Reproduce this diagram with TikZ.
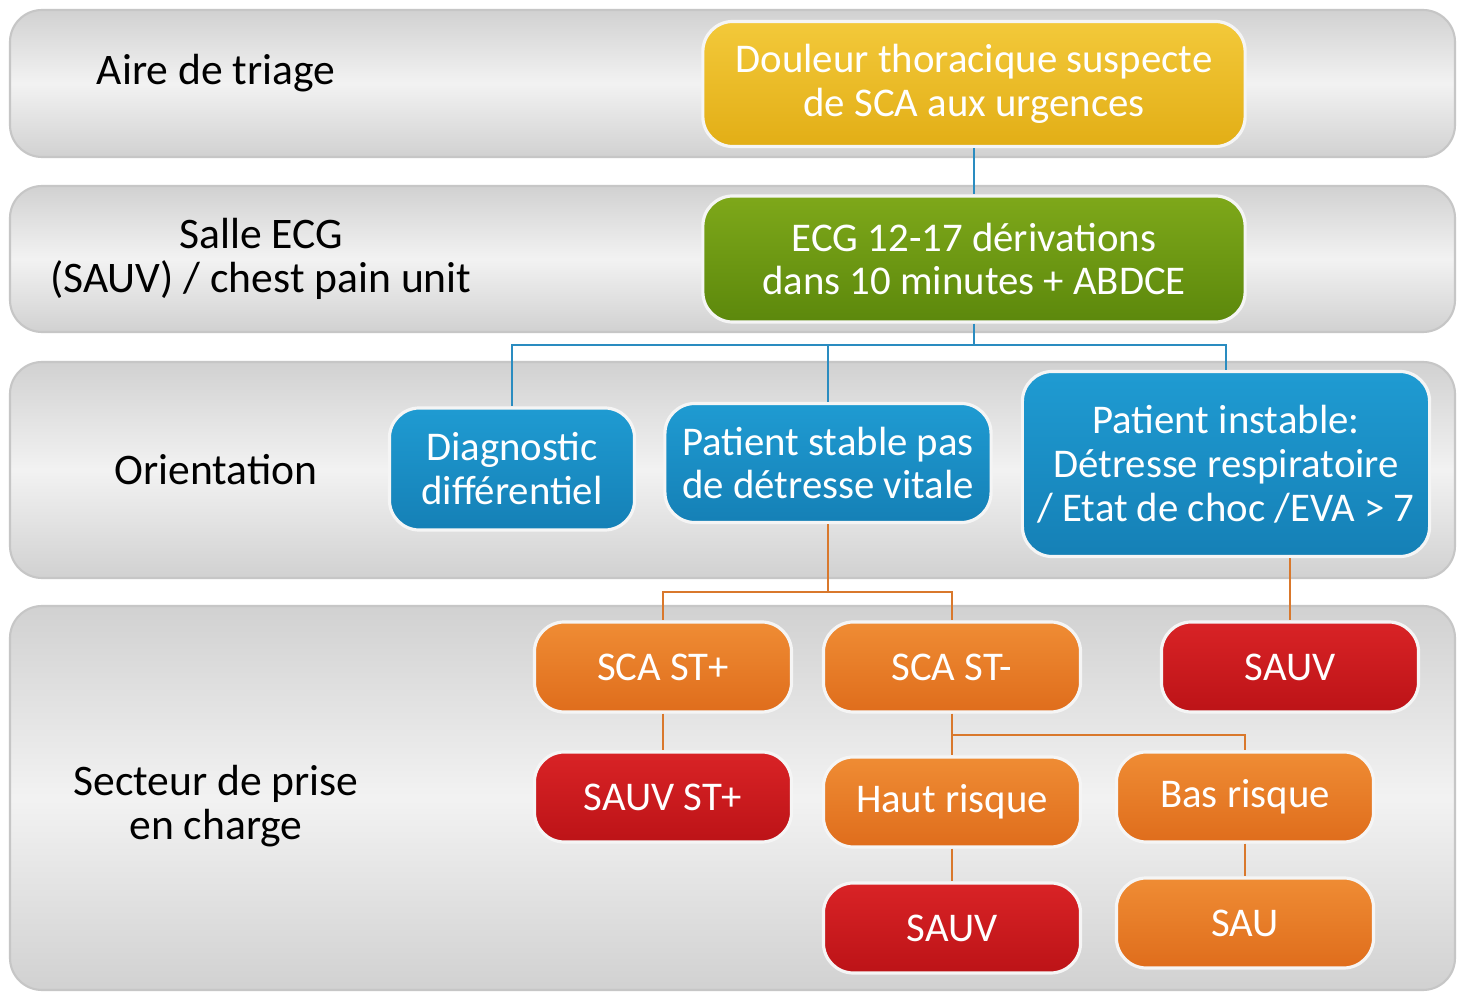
\documentclass[tikz,border=0pt]{standalone}
\usepackage{fontspec}
\setmainfont{Carlito}
\usetikzlibrary{positioning}

\definecolor{jauneH}{HTML}{F3C93A}
\definecolor{jauneB}{HTML}{E2AE16}
\definecolor{vertH}{HTML}{7EA81A}
\definecolor{vertB}{HTML}{5C880C}
\definecolor{bleuH}{HTML}{1F9BD2}
\definecolor{bleuB}{HTML}{1580B6}
\definecolor{orangeH}{HTML}{EF8C34}
\definecolor{orangeB}{HTML}{DF6D1C}
\definecolor{rougeH}{HTML}{D92326}
\definecolor{rougeB}{HTML}{BC1317}
\definecolor{lienbleu}{HTML}{2A8CC0}
\definecolor{lienorange}{HTML}{D9782C}

\tikzset{
  zone/.style={rounded corners=0.32cm, draw=gray!45, line width=0.6pt,
    top color=gray!36, bottom color=gray!36, middle color=gray!10},
  etiquette/.style={align=center, text=black, font=\fontsize{12.4}{12.5}\selectfont},
  boite/.style={rounded corners=0.3cm, align=center, text=white, inner sep=0pt,
    draw=white!92!gray, line width=0.9pt, font=\fontsize{11.6}{12.5}\selectfont},
  jaune/.style={boite, top color=jauneH, bottom color=jauneB},
  vert/.style={boite, top color=vertH, bottom color=vertB},
  bleu/.style={boite, top color=bleuH, bottom color=bleuB},
  orange/.style={boite, top color=orangeH, bottom color=orangeB,
    minimum width=2.57cm, minimum height=0.9cm},
  rouge/.style={boite, top color=rougeH, bottom color=rougeB,
    minimum width=2.57cm, minimum height=0.9cm},
  lienB/.style={draw=lienbleu, line width=0.8pt},
  lienO/.style={draw=lienorange, line width=0.8pt}
}

\begin{document}
\begin{tikzpicture}[x=0.01cm,y=-0.01cm]

    \useasboundingbox[fill=white] (0,0) rectangle (1465,994);

    % bandes
    \draw[zone] (10,10) rectangle (1455,157);
    \draw[zone] (10,186) rectangle (1455,332);
    \draw[zone] (10,362) rectangle (1455,578);
    \draw[zone] (10,606) rectangle (1455,990);

    \node[etiquette] (triage) at (216,73) {Aire de triage};
    \node[etiquette] (salle) at (261,259) {Salle ECG\\(SAUV) / chest pain unit};
    \node[etiquette] (orient) at (216,470) {Orientation};
    \node[etiquette] (secteur) at (216,806) {Secteur de prise\\en charge};

    % liens
    \coordinate (j1) at (974,345);
    \coordinate (j2) at (828,592);
    \coordinate (j3) at (952,735);

    \node[jaune, minimum width=5.42cm, minimum height=1.25cm] (douleur) at (974,84)
        {Douleur thoracique suspecte\\de SCA aux urgences};
    \node[vert, minimum width=5.42cm, minimum height=1.26cm] (ecg) at (974,259)
        {ECG 12-17 dérivations\\dans 10 minutes + ABDCE};

    \node[bleu, minimum width=2.45cm, minimum height=1.22cm] (diag) at (512,469)
        {Diagnostic\\différentiel};
    \node[bleu, minimum width=3.26cm, minimum height=1.19cm] (stable) at (828,463)
        {Patient stable pas\\de détresse vitale};
    \node[bleu, minimum width=4.07cm, minimum height=1.85cm] (instable) at (1226,464)
        {Patient instable:\\Détresse respiratoire\\/ Etat de choc /EVA > 7};

    \node[orange] (stplus) at (663,667) {SCA ST+};
    \node[orange] (stmoins) at (952,667) {SCA ST-};
    \node[rouge] (sauvA) at (1290,667) {SAUV};
    \node[rouge] (sauvst) at (663,797) {SAUV ST+};
    \node[orange] (haut) at (952,802) {Haut risque};
    \node[orange] (bas) at (1245,797) {Bas risque};
    \node[rouge] (sauvB) at (952,928) {SAUV};
    \node[orange] (sau) at (1245,923) {SAU};

    \draw[lienB] (douleur) -- (ecg);
    \draw[lienB] (ecg) -- (j1) -| (diag);
    \draw[lienB] (j1) -| (stable);
    \draw[lienB] (j1) -| (instable);

    \draw[lienO] (stable) -- (j2) -| (stplus);
    \draw[lienO] (j2) -| (stmoins);
    \draw[lienO] (instable.south -| sauvA.north) -- (sauvA);
    \draw[lienO] (stplus) -- (sauvst);
    \draw[lienO] (stmoins) -- (haut);
    \draw[lienO] (j3) -| (bas);
    \draw[lienO] (haut) -- (sauvB);
    \draw[lienO] (bas) -- (sau);

\end{tikzpicture}
\end{document}
